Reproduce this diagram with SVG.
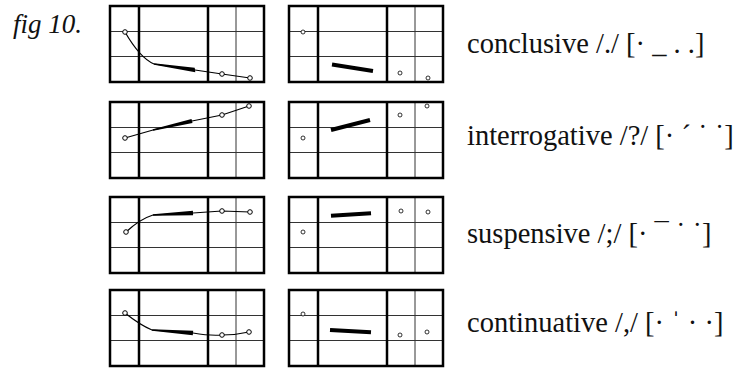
<svg xmlns="http://www.w3.org/2000/svg" width="741" height="369" viewBox="0 0 741 369">
<style>
.bg{fill:#fff}
.thin{stroke:#333;stroke-width:1;fill:none}
.thick{stroke:#000;stroke-width:2.5;fill:none}
.curve{stroke:#000;stroke-width:1.2;fill:none}
.bar{stroke:#000;stroke-width:4;stroke-linecap:butt}
.wedge{fill:#000}
.pt{fill:#fff;stroke:#000;stroke-width:1}
.pts{fill:#fff;stroke:#000;stroke-width:0.8}
.lbl{font-family:"Liberation Serif",serif;font-size:28.5px;fill:#111}
.fig{font-family:"Liberation Serif",serif;font-style:italic;font-size:27px;fill:#111}
</style>
<defs>
<g id="grid">
<rect class="bg" x="0" y="0" width="154" height="76"/>
<line class="thin" x1="0" y1="25.5" x2="154" y2="25.5"/>
<line class="thin" x1="0" y1="50.5" x2="154" y2="50.5"/>
<line class="thin" x1="126" y1="0" x2="126" y2="76"/>
<line class="thick" x1="29" y1="0" x2="29" y2="76"/>
<line class="thick" x1="98" y1="0" x2="98" y2="76"/>
<rect class="thick" x="0" y="0" width="154" height="76"/>
</g>
</defs>
<text class="fig" x="13" y="33">fig 10.</text>

<g id="conclusive-left">
<use href="#grid" x="110" y="6"/>
<path class="curve" d="M125,32 Q140,58 154,64 L195,70 L222,74 L250,78"/>
<polygon class="wedge" points="153.9,63.2 194.7,67.7 195.3,72.3 154.1,64.8"/>
<circle class="pt" cx="125" cy="32" r="2.3"/><circle class="pt" cx="222" cy="74" r="2.3"/><circle class="pt" cx="250" cy="78" r="2.3"/>
</g>
<g id="conclusive-right">
<use href="#grid" x="289" y="6"/>
<line class="bar" x1="332" y1="64.5" x2="373" y2="71"/>
<circle class="pts" cx="303" cy="32" r="2"/><circle class="pts" cx="400" cy="73" r="2"/><circle class="pts" cx="428" cy="78" r="2"/>
</g>
<text id="conclusive-label" class="lbl" x="467" y="53">conclusive /./ [· _ . .]</text>

<g id="interrogative-left">
<use href="#grid" x="110" y="102"/>
<path class="curve" d="M125,138 L153,130 L192,121 L222,115 L249,106"/>
<polygon class="wedge" points="152.8,129.2 191.5,118.9 192.5,123.1 153.2,130.8"/>
<circle class="pt" cx="125" cy="138" r="2.3"/><circle class="pt" cx="222" cy="115" r="2.3"/><circle class="pt" cx="249" cy="106" r="2.3"/>
</g>
<g id="interrogative-right">
<use href="#grid" x="289" y="102"/>
<line class="bar" x1="331" y1="130" x2="370" y2="120"/>
<circle class="pts" cx="303" cy="138" r="2"/><circle class="pts" cx="400" cy="115" r="2"/><circle class="pts" cx="427" cy="106" r="2"/>
</g>
<text id="interrogative-label" class="lbl" x="467" y="145">interrogative /?/ [· ˊ ˙ ˙]</text>

<g id="suspensive-left">
<use href="#grid" x="110" y="197"/>
<path class="curve" d="M126,232 Q140,219 153,215 L193,213 L222,211 L250,212"/>
<polygon class="wedge" points="153,214.2 192.9,210.8 193.1,215.2 153,215.8"/>
<circle class="pt" cx="126" cy="232" r="2.3"/><circle class="pt" cx="222" cy="211" r="2.3"/><circle class="pt" cx="250" cy="212" r="2.3"/>
</g>
<g id="suspensive-right">
<use href="#grid" x="289" y="197"/>
<line class="bar" x1="331" y1="215.7" x2="371" y2="213.3"/>
<circle class="pts" cx="303" cy="232" r="2"/><circle class="pts" cx="401" cy="211" r="2"/><circle class="pts" cx="428" cy="212" r="2"/>
</g>
<text id="suspensive-label" class="lbl" x="467" y="243">suspensive /;/ [· ¯ ˙ ˙]</text>

<g id="continuative-left">
<use href="#grid" x="110" y="290"/>
<path class="curve" d="M125,313 Q140,325 152,330 L193,333 Q210,336 222,335 Q236,335 249,332"/>
<polygon class="wedge" points="152.1,329.2 193.2,330.8 192.8,335.2 151.9,330.8"/>
<circle class="pt" cx="125" cy="313" r="2.3"/><circle class="pt" cx="222" cy="335" r="2.3"/><circle class="pt" cx="249" cy="332" r="2.3"/>
</g>
<g id="continuative-right">
<use href="#grid" x="289" y="290"/>
<line class="bar" x1="330" y1="330" x2="371" y2="332.3"/>
<circle class="pts" cx="303" cy="314" r="2"/><circle class="pts" cx="400" cy="335" r="2"/><circle class="pts" cx="427" cy="332" r="2"/>
</g>
<text id="continuative-label" class="lbl" x="467" y="332">continuative /,/ [· ˈ · ·]</text>
<g id="connectors"/>
</svg>
